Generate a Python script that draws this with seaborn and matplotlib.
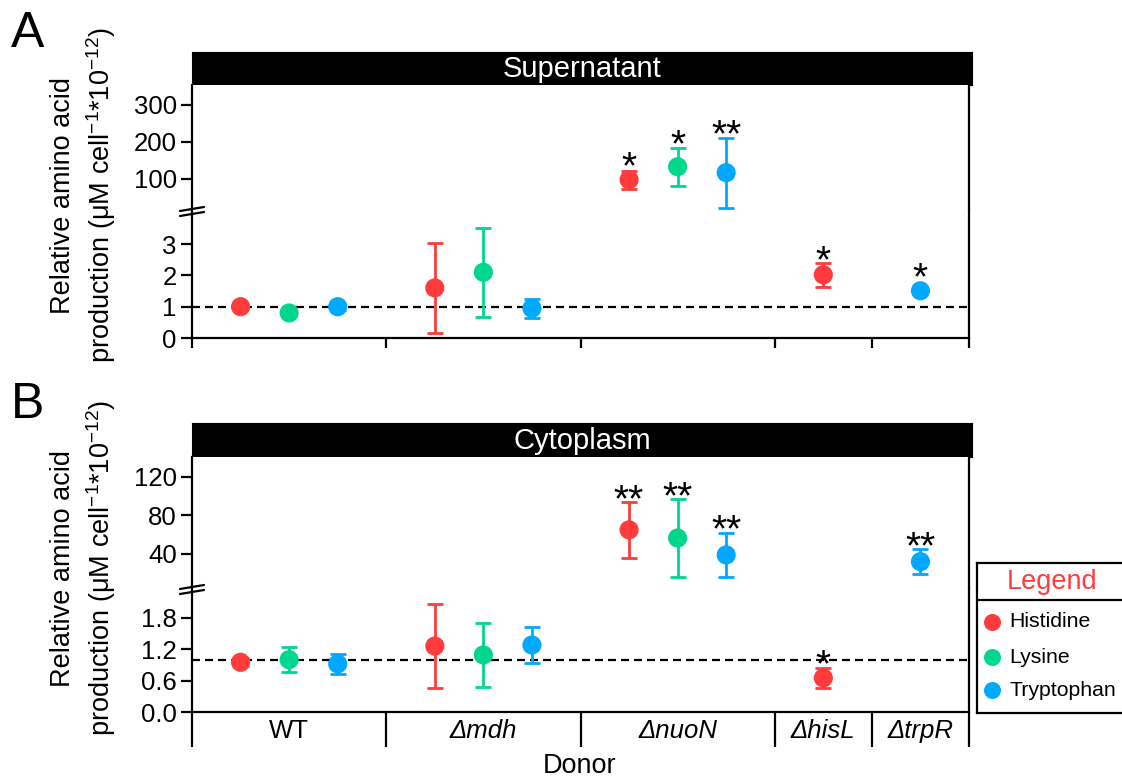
import numpy as np
import pandas as pd
import matplotlib
matplotlib.use('Agg')
import matplotlib.pyplot as plt
import seaborn as sns
from matplotlib.lines import Line2D

# ---- data ----
groups = ['WT', 'Δmdh', 'ΔnuoN', 'ΔhisL', 'ΔtrpR']
acids = ['Histidine', 'Lysine', 'Tryptophan']
colors = ['#FF3B3B', '#00D68C', '#00A8FF']
nan = np.nan

# Supernatant
sup_his = [1.0, 1.6, 98, 2.02, nan]
sup_his_err = [0.08, 1.45, 24, 0.38, nan]
sup_lys = [0.8, 2.1, 133, nan, nan]
sup_lys_err = [0.1, 1.43, 52, nan, nan]
sup_trp = [1.0, 0.95, 117, nan, 1.51]
sup_trp_err = [0.1, 0.3, 95, nan, 0.08]
sup_his_sig = ['', '', '*', '*', '']
sup_lys_sig = ['', '', '*', '', '']
sup_trp_sig = ['', '', '**', '', '*']

# Cytoplasm
cyt_his = [0.95, 1.26, 65, 0.65, nan]
cyt_his_err = [0.08, 0.81, 29, 0.2, nan]
cyt_lys = [1.0, 1.09, 56.5, nan, nan]
cyt_lys_err = [0.24, 0.62, 40.5, nan, nan]
cyt_trp = [0.92, 1.28, 39, nan, 32]
cyt_trp_err = [0.19, 0.35, 23, nan, 13]
cyt_his_sig = ['', '', '**', '*', '']
cyt_lys_sig = ['', '', '**', '', '']
cyt_trp_sig = ['', '', '**', '', '**']

W, H = 1122, 780


def fx(px):
    return px / W


def fy(px):
    return 1 - px / H


def build_frame(vals, errs, sigs):
    rows = []
    for acid, v, e, s in zip(acids, vals, errs, sigs):
        for g, vv, ee, ss in zip(groups, v, e, s):
            rows.append({'group': g, 'acid': acid, 'value': vv, 'err': ee, 'sig': ss})
    return pd.DataFrame(rows)


sup = build_frame([sup_his, sup_lys, sup_trp],
                  [sup_his_err, sup_lys_err, sup_trp_err],
                  [sup_his_sig, sup_lys_sig, sup_trp_sig])
cyt = build_frame([cyt_his, cyt_lys, cyt_trp],
                  [cyt_his_err, cyt_lys_err, cyt_trp_err],
                  [cyt_his_sig, cyt_lys_sig, cyt_trp_sig])

# slot layout: one slot per measured acid, one empty slot between donors
present = pd.concat([sup, cyt]).dropna(subset=['value'])
slot = {}
separators = [0]
centers = []
p = 1
for g in groups:
    for a in acids:
        if ((present['group'] == g) & (present['acid'] == a)).any():
            slot[(g, a)] = p
            p += 1
    separators.append(p)
    centers.append((separators[-2] + separators[-1]) / 2)
    p += 1
xmax = separators[-1]
for df in (sup, cyt):
    df['pos'] = [slot.get((g, a), nan) for g, a in zip(df['group'], df['acid'])]

sns.set_style('white')
plt.rcParams['font.family'] = ['Liberation Sans', 'DejaVu Sans']
plt.rcParams['mathtext.fontset'] = 'custom'
plt.rcParams['mathtext.rm'] = 'Liberation Sans'
plt.rcParams['mathtext.default'] = 'regular'
for k in ('text.color', 'axes.labelcolor', 'xtick.color', 'ytick.color', 'axes.edgecolor'):
    plt.rcParams[k] = 'black'

fig = plt.figure(figsize=(W / 100, H / 100), dpi=100)
palette = dict(zip(acids, colors))
LEFT, RIGHT = 192, 969


def draw_panel(df, title, letter, bar_top, top, split, bottom,
               up_lim, low_lim, up_ticks, low_ticks, low_labels, long_ticks):
    # title bar
    bar = fig.add_axes([fx(LEFT), fy(top), fx(RIGHT + 3) - fx(LEFT), (top - bar_top) / H])
    bar.set_facecolor('black')
    bar.set_xticks([])
    bar.set_yticks([])
    bar.text(0.5, 0.47, title, color='white', fontsize=21, ha='center', va='center',
             transform=bar.transAxes)

    ax_up = fig.add_axes([fx(LEFT), fy(split), fx(RIGHT) - fx(LEFT), (split - top) / H])
    ax_lo = fig.add_axes([fx(LEFT), fy(bottom), fx(RIGHT) - fx(LEFT), (bottom - split) / H])

    ax_lo.axhline(1, color='black', lw=1.6, ls=(0, (3.6, 2.25)), zorder=1)

    d = df.dropna(subset=['value'])
    parts = {ax_up: d[d['value'] > low_lim[1]], ax_lo: d[d['value'] <= low_lim[1]]}
    for ax, part in parts.items():
        for _, r in part.iterrows():
            ax.errorbar(r['pos'], r['value'], yerr=r['err'], fmt='none',
                        ecolor=palette[r['acid']], elinewidth=2, capsize=5.5,
                        capthick=2, zorder=2)
        sns.scatterplot(data=part, x='pos', y='value', hue='acid', palette=palette,
                        s=190, linewidth=0, legend=False, ax=ax, zorder=3)
        ax.set_xlim(0, xmax)
        ax.set_xlabel('')
        ax.set_ylabel('')
        for s in ax.spines.values():
            s.set_linewidth(1.6)
            s.set_color('black')
        ax.tick_params(axis='y', direction='out', length=8, width=1.6,
                       labelsize=18.5, pad=3, left=True)

    ax_up.set_ylim(*up_lim)
    ax_lo.set_ylim(*low_lim)
    ax_up.set_yticks(up_ticks)
    ax_up.set_yticklabels([str(t) for t in up_ticks])
    ax_lo.set_yticks(low_ticks)
    ax_lo.set_yticklabels(low_labels)
    ax_up.spines['top'].set_visible(False)
    ax_up.spines['bottom'].set_visible(False)
    ax_lo.spines['top'].set_visible(False)
    ax_up.set_xticks([])
    ax_lo.set_xticks(separators)
    ax_lo.set_xticklabels([])
    ax_lo.tick_params(axis='x', direction='out', width=1.6,
                      length=25 if long_ticks else 7, bottom=True)

    # axis break marks
    for dy in (0, 5):
        fig.add_artist(Line2D([fx(180), fx(204)], [fy(split + 1 + dy), fy(split - 3 + dy)],
                              color='black', lw=1.6, transform=fig.transFigure))

    # significance stars
    for _, r in d[d['sig'] != ''].iterrows():
        ax = ax_up if r['value'] > low_lim[1] else ax_lo
        cap = ax.transData.transform((r['pos'], r['value'] + r['err']))[1]
        mark = ax.transData.transform((r['pos'], r['value']))[1] + 10
        off = max(cap, mark) - cap
        ax.annotate(r['sig'], (r['pos'], r['value'] + r['err']),
                    xytext=(0, off - 9), textcoords='offset pixels',
                    ha='center', va='baseline', fontsize=28)

    # y label and panel letter
    ymid = (top + bottom) / 2 - 16
    fig.text(fx(84), fy(ymid),
             'Relative amino acid\nproduction (μM cell$^{-1}$*10$^{-12}$)',
             rotation=90, ha='center', va='center', fontsize=19.5,
             multialignment='center', linespacing=1.35)
    fig.text(fx(11), fy(bar_top - 5), letter, fontsize=36, ha='left', va='baseline')
    return ax_lo


draw_panel(sup, 'Supernatant', 'A', 52, 85, 210, 338,
           (16, 354), (0, 4.09), [100, 200, 300], [0, 1, 2, 3],
           ['0', '1', '2', '3'], False)
ax_b = draw_panel(cyt, 'Cytoplasm', 'B', 423, 457, 588, 712,
                  (4.7, 140.5), (0, 2.37), [40, 80, 120], [0.0, 0.6, 1.2, 1.8],
                  ['0.0', '0.6', '1.2', '1.8'], True)

# donor labels
for g, c in zip(groups, centers):
    ax_b.text(c, (712 - 731) / 124, g, transform=ax_b.get_xaxis_transform(),
              ha='center', va='center', fontsize=18.5,
              style='normal' if g == 'WT' else 'italic')
fig.text(fx(580), fy(766), 'Donor', ha='center', va='center', fontsize=19.5)

# legend box
lax = fig.add_axes([fx(977), fy(713), (1150 - 977) / W, 150 / H])
lax.set_xlim(0, 1)
lax.set_ylim(0, 1)
lax.set_xticks([])
lax.set_yticks([])
for s in lax.spines.values():
    s.set_linewidth(1.6)
lax.axhline(0.753, color='black', lw=1.6)
lax.text(0.434, 0.873, 'Legend', color=colors[0], fontsize=19.5, ha='center', va='center')
for acid, col, yy in zip(acids, colors, [0.607, 0.373, 0.153]):
    lax.scatter([0.087], [yy], s=150, color=col, linewidth=0)
    lax.text(0.185, yy, acid, fontsize=15.3, ha='left', va='center')

fig.savefig('out.png', dpi=100)
